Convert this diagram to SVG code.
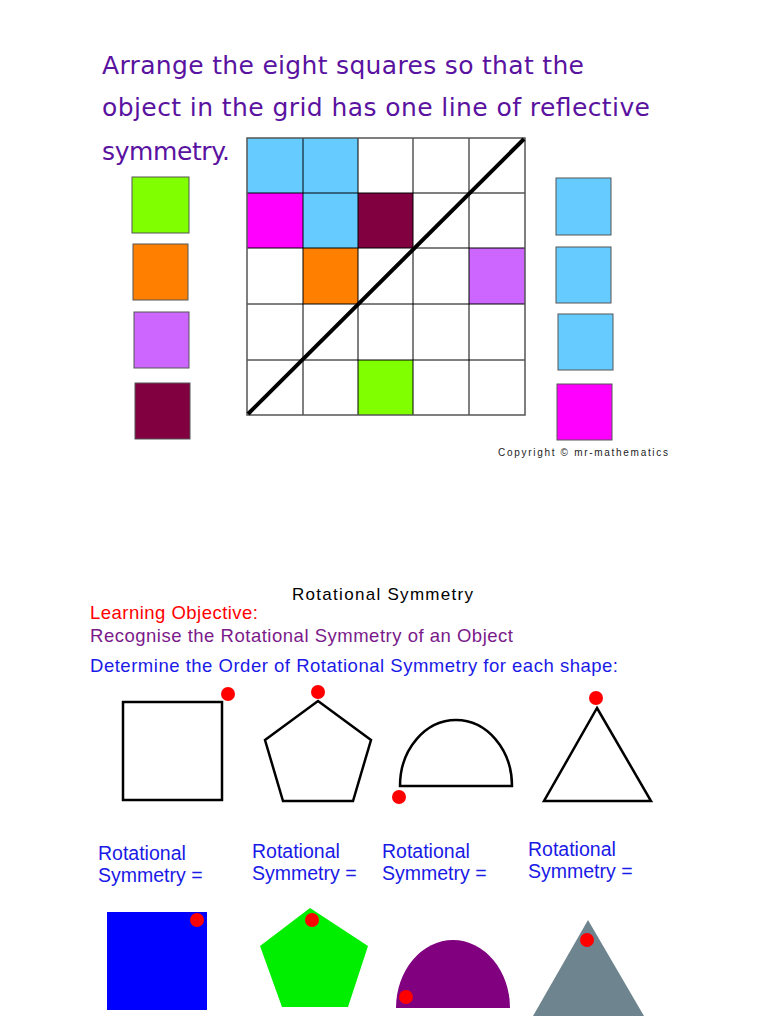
<svg xmlns="http://www.w3.org/2000/svg" width="768" height="1024" viewBox="0 0 768 1024">
<style>
.t{font-family:"DejaVu Sans",sans-serif;font-size:25px;fill:#5a12a0}
.s{font-family:"Liberation Sans",Arial,sans-serif}
.b{font-size:19.5px;fill:#1a1ae6}
.c{stroke:#000;stroke-width:1}
.o{fill:none;stroke:#000;stroke-width:2.5}
.d{fill:#f00}
</style>
<rect width="768" height="1024" fill="#fff"/>
<text class="t" x="102" y="74" textLength="482">Arrange the eight squares so that the</text>
<text class="t" x="102" y="116" textLength="548">object in the grid has one line of reflective</text>
<text class="t" x="102" y="160" textLength="128">symmetry.</text>
<g id="grid">
<rect x="247" y="138" width="56" height="55" fill="#66ccff"/>
<rect x="303" y="138" width="55" height="55" fill="#66ccff"/>
<rect x="247" y="193" width="56" height="55" fill="#ff00ff"/>
<rect x="303" y="193" width="55" height="55" fill="#66ccff"/>
<rect x="358" y="193" width="55" height="55" fill="#800040"/>
<rect x="303" y="248" width="55" height="56" fill="#ff8000"/>
<rect x="469" y="248" width="56" height="56" fill="#cc66ff"/>
<rect x="358" y="360" width="55" height="55" fill="#80ff00"/>
<g class="c">
<line x1="303" y1="138" x2="303" y2="415"/><line x1="358" y1="138" x2="358" y2="415"/>
<line x1="413" y1="138" x2="413" y2="415"/><line x1="469" y1="138" x2="469" y2="415"/>
<line x1="247" y1="193" x2="525" y2="193"/><line x1="247" y1="248" x2="525" y2="248"/>
<line x1="247" y1="304" x2="525" y2="304"/><line x1="247" y1="360" x2="525" y2="360"/>
</g>
<rect x="247" y="138" width="278" height="277" fill="none" stroke="#555" stroke-width="1.5"/>
<line x1="248" y1="414" x2="524" y2="139" stroke="#000" stroke-width="4"/>
</g>
<g id="pieces" stroke="#555" stroke-width="1">
<rect x="132" y="177" width="57" height="56" fill="#80ff00"/>
<rect x="133" y="244" width="55" height="56" fill="#ff8000"/>
<rect x="134" y="312" width="55" height="56" fill="#cc66ff"/>
<rect x="135" y="383" width="55" height="56" fill="#800040"/>
<rect x="556" y="178" width="55" height="57" fill="#66ccff"/>
<rect x="556" y="247" width="55" height="56" fill="#66ccff"/>
<rect x="558" y="314" width="55" height="56" fill="#66ccff"/>
<rect x="557" y="384" width="55" height="56" fill="#ff00ff"/>
</g>
<text class="s" x="498" y="456" font-size="10" fill="#222" textLength="170">Copyright © mr-mathematics</text>
<text class="s" x="292" y="600" font-size="17" fill="#000" textLength="181">Rotational Symmetry</text>
<text class="s" x="90" y="619" font-size="18.5" fill="#f00" textLength="168">Learning Objective:</text>
<text class="s" x="90" y="642" font-size="18.5" fill="#7a1a8a" textLength="423">Recognise the Rotational Symmetry of an Object</text>
<text class="s" x="90" y="672" font-size="18.5" fill="#1a1ae6" textLength="528">Determine the Order of Rotational Symmetry for each shape:</text>
<g id="outlines">
<rect class="o" x="123" y="702" width="99" height="98"/>
<polygon class="o" points="318,701 371,740 353,801 283,801 265,740"/>
<path class="o" d="M400,786 A56,66 0 0 1 512,786 Z"/>
<polygon class="o" points="597,708 651,801 544,801"/>
<circle class="d" cx="228" cy="694" r="7"/>
<circle class="d" cx="318" cy="692" r="7"/>
<circle class="d" cx="399" cy="797" r="7"/>
<circle class="d" cx="596" cy="698" r="7"/>
</g>
<g class="s b">
<text x="98" y="860">Rotational</text><text x="98" y="882">Symmetry =</text>
<text x="252" y="858">Rotational</text><text x="252" y="880">Symmetry =</text>
<text x="382" y="858">Rotational</text><text x="382" y="880">Symmetry =</text>
<text x="528" y="856">Rotational</text><text x="528" y="878">Symmetry =</text>
</g>
<g id="filled">
<rect x="107" y="912" width="100" height="98" fill="#0000ff"/>
<polygon points="310,908 368,946 348,1007 282,1007 260,946" fill="#00ee00"/>
<path d="M396,1008 A57,68 0 0 1 510,1008 Z" fill="#800080"/>
<polygon points="588,920 644,1016 533,1016" fill="#6e858f"/>
<circle class="d" cx="197" cy="920" r="7"/>
<circle class="d" cx="312" cy="920" r="7"/>
<circle class="d" cx="406" cy="997" r="7"/>
<circle class="d" cx="587" cy="940" r="7"/>
</g>
</svg>
